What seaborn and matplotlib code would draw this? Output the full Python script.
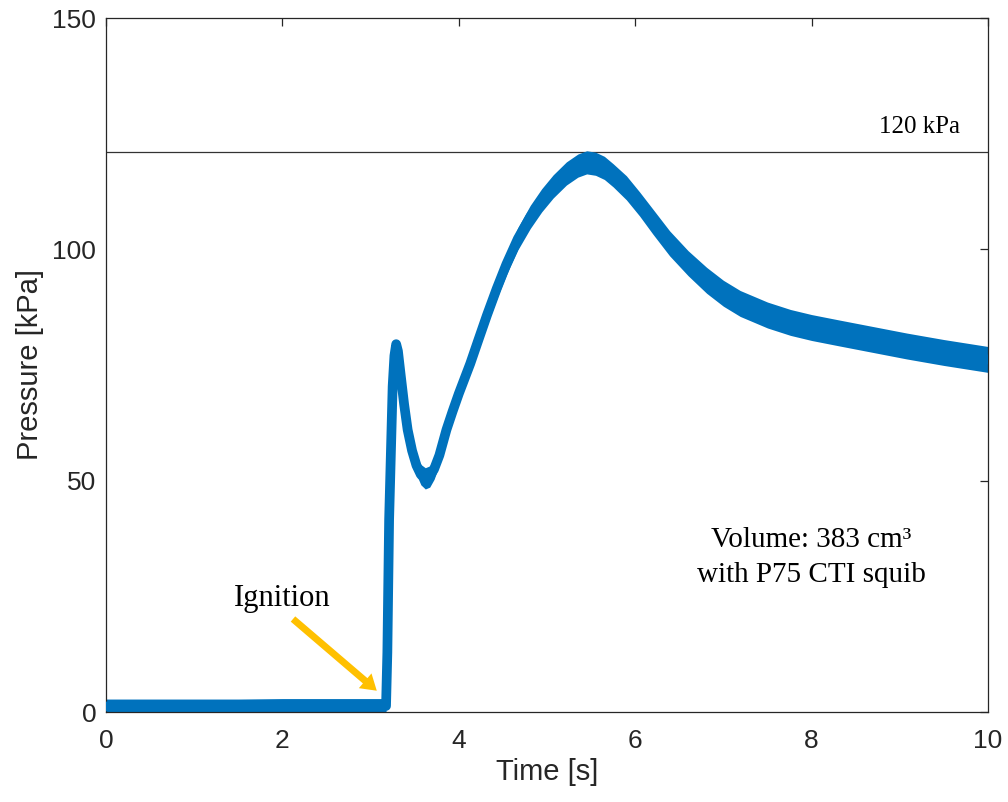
import numpy as np
import pandas as pd
import matplotlib
matplotlib.use("Agg")
import matplotlib.pyplot as plt
import seaborn as sns

# ---- data ----
time_s = [0.0, 0.5, 1.0, 1.5, 2.0, 2.5, 3.0, 3.175, 3.19, 3.21, 3.25, 3.27, 3.29,
          3.31, 3.34, 3.38, 3.42, 3.47, 3.52, 3.57, 3.62, 3.67, 3.72, 3.78, 3.86,
          3.93, 4.0, 4.13, 4.22, 4.32, 4.43, 4.54, 4.67, 4.81, 4.94, 5.07, 5.22,
          5.35, 5.45, 5.55, 5.65, 5.75, 5.9, 6.05, 6.2, 6.39, 6.6, 6.81, 7.0,
          7.19, 7.5, 7.76, 8.0, 8.32, 8.7, 9.08, 9.5, 10.0]
pressure_kpa = [1.2, 1.2, 1.2, 1.2, 1.3, 1.3, 1.3, 1.3, 12.9, 41.6, 70.4, 77.0, 79.5,
                78.0, 73.0, 66.5, 61.0, 56.5, 53.3, 51.3, 50.5, 50.9, 52.5, 55.5, 61.0,
                65.0, 68.8, 75.3, 80.3, 85.8, 91.5, 96.8, 102.3, 107.0, 110.6, 113.6, 116.4,
                118.1, 118.8, 118.5, 117.6, 116.0, 113.3, 109.8, 106.0, 101.3, 97.0, 93.3, 90.5,
                88.3, 85.8, 84.2, 83.1, 81.9, 80.5, 79.1, 77.7, 76.2]
band_halfwidth = [1.6, 1.6, 1.6, 1.6, 1.6, 1.6, 1.6, 1.6, 0.8, 0.8, 0.8, 0.8, 0.8,
                  0.8, 1.0, 1.2, 1.5, 1.8, 2.0, 2.2, 2.3, 2.3, 2.2, 2.0, 2.0,
                  2.0, 2.0, 2.0, 2.0, 2.2, 2.2, 2.3, 2.4, 2.5, 2.5, 2.5, 2.5,
                  2.5, 2.5, 2.5, 2.5, 2.5, 2.6, 2.6, 2.7, 2.7, 2.7, 2.8, 2.8,
                  2.8, 2.8, 2.8, 2.8, 2.8, 2.8, 2.8, 2.8, 2.8]
limit_kpa = 121.0
x_ticks = [0, 2, 4, 6, 8, 10]
y_ticks = [0, 50, 100, 150]

df = pd.DataFrame({"Time [s]": time_s, "Pressure [kPa]": pressure_kpa})

sns.set_theme(style="white")
plt.rcParams["font.family"] = ["Liberation Sans", "DejaVu Sans"]

BLUE = "#0072BD"
AXC = "#262626"

fig = plt.figure(figsize=(10.08, 8.02), dpi=100)
ax = fig.add_axes([106 / 1008, 1 - 712 / 802, (988 - 106) / 1008, (712 - 18) / 802])

t = np.array(time_s)
p = np.array(pressure_kpa)
hw = np.array(band_halfwidth)
ax.fill_between(t, p - hw, p + hw, color=BLUE, lw=0, zorder=2)
sns.lineplot(data=df, x="Time [s]", y="Pressure [kPa]", ax=ax, color=BLUE,
             lw=7, estimator=None, sort=False, zorder=3,
             solid_capstyle="round", solid_joinstyle="round")

ax.axhline(limit_kpa, color="#333333", lw=0.9, zorder=1)

ax.set_xlim(0, 10)
ax.set_ylim(0, 150)
ax.set_xticks(x_ticks)
ax.set_yticks(y_ticks)
ax.set_xticklabels([str(v) for v in x_ticks])
ax.set_yticklabels([str(v) for v in y_ticks])

for s in ax.spines.values():
    s.set_visible(True)
    s.set_color(AXC)
    s.set_linewidth(0.9)
ax.tick_params(axis="both", direction="in", length=6, width=0.9, color=AXC,
               labelcolor=AXC, labelsize=19, top=True, right=True,
               labeltop=False, labelright=False)
ax.tick_params(axis="x", pad=12)
ax.tick_params(axis="y", pad=7)
ax.set_xlabel("Time [s]", fontsize=21, color=AXC, labelpad=4)
ax.set_ylabel("Pressure [kPa]", fontsize=21, color=AXC, labelpad=6)

serif = ["Liberation Serif", "DejaVu Serif"]
ax.text(9.68, 125.2, "120 kPa", family=serif, fontsize=18, color="black",
        ha="right", va="baseline")
ax.text(8.0, 35.7, "Volume: 383 cm³", family=serif, fontsize=21, color="black",
        ha="center", va="baseline")
ax.text(8.0, 28.1, "with P75 CTI squib", family=serif, fontsize=21, color="black",
        ha="center", va="baseline")
ax.text(2.0, 22.9, "Ignition", family=serif, fontsize=22, color="black",
        ha="center", va="baseline")
ax.annotate("", xy=(3.07, 4.6), xytext=(2.12, 20.1),
            arrowprops=dict(facecolor="#FFC000", edgecolor="none", width=5,
                            headwidth=14, headlength=11, shrink=0.0), zorder=5)

fig.savefig("out.png", dpi=100)
